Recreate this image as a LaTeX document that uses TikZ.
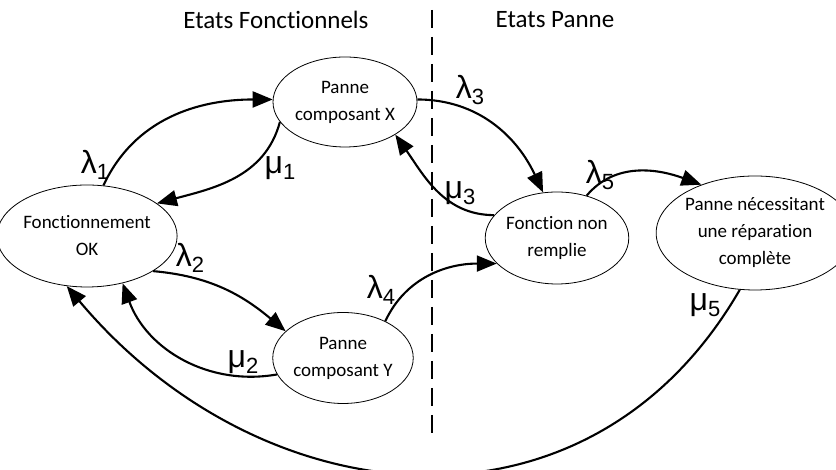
\documentclass[tikz,border=0pt]{standalone}
\usepackage{fontspec}
\setmainfont{Carlito}[Ligatures=NoCommon]
\newfontfamily\grecfont{Liberation Sans}
\usetikzlibrary{arrows.meta,shapes.geometric}

% taux de transition : lettre grecque + indice
\newcommand{\taux}[2]{{\grecfont\fontsize{32}{32}\selectfont #1\raisebox{-0.2em}{\fontsize{22}{22}\selectfont #2}}}

\begin{document}
\begin{tikzpicture}[
      x=1pt, y=1pt,
      etat/.style={
        draw,
        ellipse,
        line width=0.8pt,
        inner sep=0pt,
        align=center,
        font=\fontsize{19}{27}\selectfont
      },
      titre/.style={
        font=\fontsize{25}{30}\selectfont
      },
      taux/.style={
        inner sep=0pt
      },
      arr/.style={
        -{Triangle[length=20pt,width=16pt]},
        line width=2.1pt
      }
    ]
    \useasboundingbox (0,0) rectangle (836,470);

    \node[titre] (tf) at (276,450) {Etats Fonctionnels};
    \node[titre] (tp) at (555,450) {Etats Panne};
    \coordinate (haut) at (432,460);
    \coordinate (bas) at (432,32);
    \draw[line width=2pt, dash pattern=on 18pt off 9pt] (haut) -- (bas);

    \node[etat, minimum width=150pt, minimum height=102pt] (ok)  at (87,234)  {Fonctionnement\\OK};
    \node[etat, minimum width=144pt, minimum height=90pt]  (px)  at (345,368) {Panne\\composant X};
    \node[etat, minimum width=140pt, minimum height=91pt]  (py)  at (343,112) {Panne\\composant Y};
    \node[etat, minimum width=140pt, minimum height=92pt]  (fnr) at (557,232) {Fonction non\\remplie};
    \node[etat, minimum width=162pt, minimum height=114pt] (prc) at (755,237) {Panne nécessitant\\une réparation\\complète};

    \node[taux] (l1) at (95,305)  {\taux{λ}{1}};
    \node[taux] (m1) at (280,302) {\taux{μ}{1}};
    \node[taux] (l2) at (190,212) {\taux{λ}{2}};
    \node[taux] (m2) at (243,108) {\taux{μ}{2}};
    \node[taux] (l3) at (470,380) {\taux{λ}{3}};
    \node[taux] (m3) at (460,277) {\taux{μ}{3}};
    \node[taux] (l4) at (381,180) {\taux{λ}{4}};
    \node[taux] (l5) at (600,295) {\taux{λ}{5}};
    \node[taux] (m5) at (705,165) {\taux{μ}{5}};

    \draw[arr] (ok.72)   to[out=65,in=180]  (px.178);
    \draw[arr] (px.197)  to[out=255,in=15]  (ok.25);
    \draw[arr] (ok.-28)  to[out=-5,in=140]  (py.155);
    \draw[arr] (py.194)  to[out=190,in=-70] (ok.-53);
    \draw[arr] (px.2)    to[out=0,in=115]   (fnr.107);
    \draw[arr] (fnr.160) to[out=180,in=-55] (px.-33);
    \draw[arr] (py.41)   to[out=65,in=180]  (fnr.203);
    \draw[arr] (fnr.55)  to[out=50,in=160]  (prc.138);
    \draw[arr] (prc.255) to[out=240,in=-50,looseness=1.15] (ok.248);
\end{tikzpicture}
\end{document}
